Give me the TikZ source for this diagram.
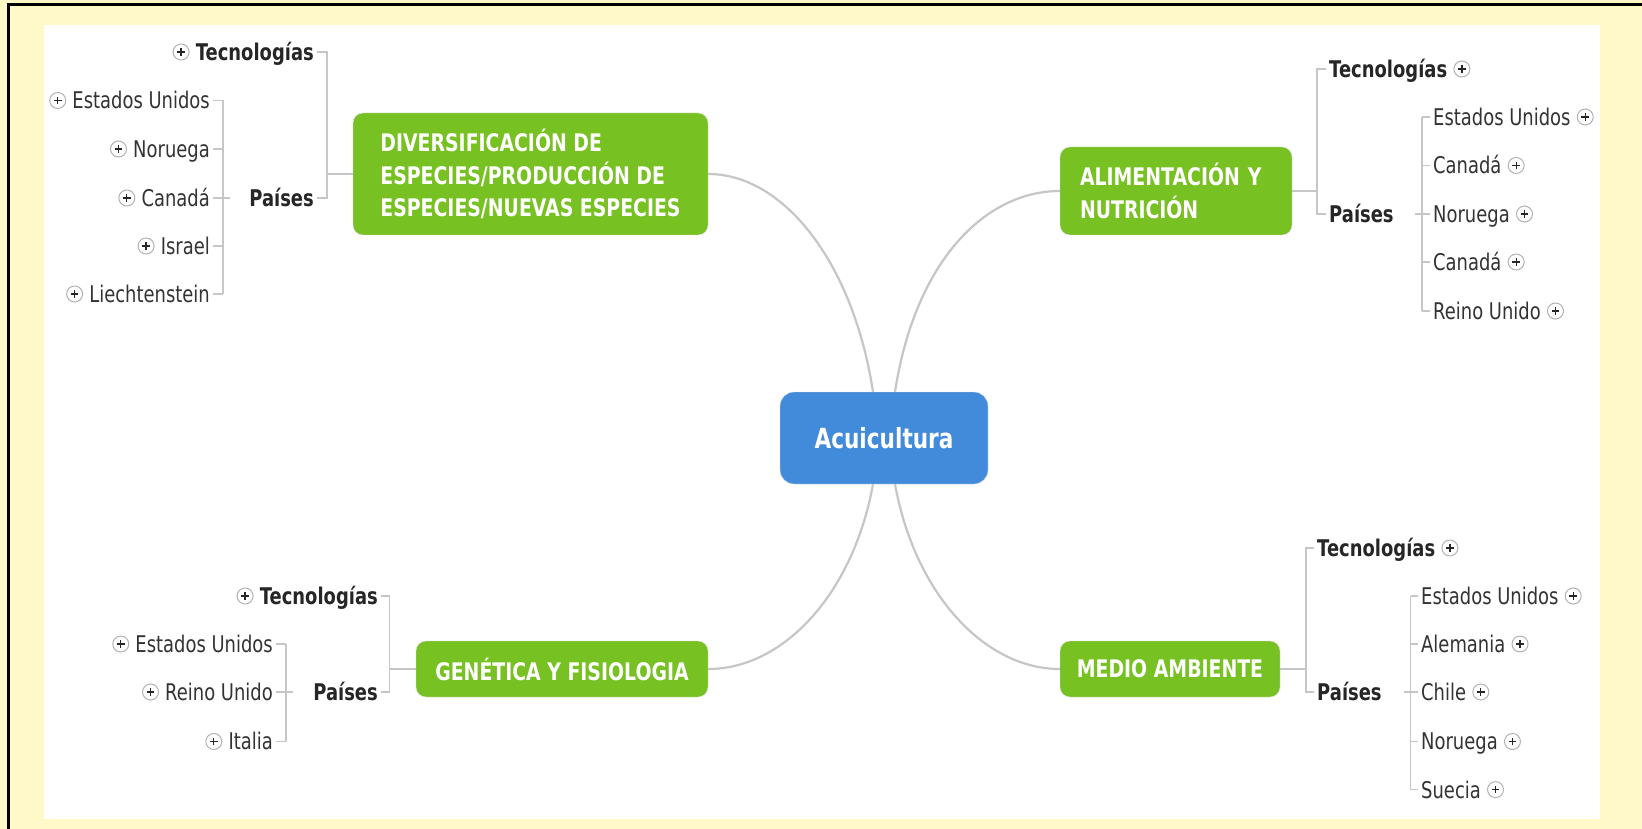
\documentclass[tikz,border=0pt]{standalone}
\usepackage{fontspec}
\setmainfont{DejaVu Sans}[FakeStretch=0.78]
\usetikzlibrary{positioning,calc}
\definecolor{bgyellow}{HTML}{FFF8C8}
\definecolor{topicgreen}{HTML}{78C123}
\definecolor{centralblue}{HTML}{428BDA}
\definecolor{linegray}{HTML}{C6C6C6}
\definecolor{leafgray}{HTML}{333333}
\tikzset{CENTRAL/.style={rectangle, rounded corners=14, fill=centralblue, draw=black!10, text=white, font=\fontsize{27.7}{32}\selectfont\bfseries, minimum width=208, minimum height=92}}
\tikzset{TOPIC/.style={rectangle, rounded corners=10, fill=topicgreen, draw=black!12, text=white, font=\fontsize{24.2}{32.5}\selectfont\bfseries, align=left}}
\tikzset{LEAF/.style={inner xsep=3, inner ysep=0, text=leafgray, font=\fontsize{23}{26}\selectfont, text height=20.8, text depth=4}}
\tikzset{BOLDLEAF/.style={LEAF, text=black!85, font=\fontsize{23}{26}\selectfont\bfseries}}
\tikzset{PLUS/.style={circle, draw=black!30, line width=1, fill=white, minimum size=16, inner sep=0, path picture={
    \draw[black!85, line width=1.3] ([xshift=-3.8pt]path picture bounding box.center) -- ([xshift=3.8pt]path picture bounding box.center)
        ([yshift=-3.8pt]path picture bounding box.center) -- ([yshift=3.8pt]path picture bounding box.center);}}}
\tikzset{BRANCH/.style={draw=linegray, line width=1.2}}
\tikzset{CURVE/.style={draw=linegray, line width=2.2}}

\begin{document}
\begin{tikzpicture}[x=1pt, y=-1pt]
    \useasboundingbox (0,0) rectangle (1642,829);
    \fill[bgyellow] (0,0) rectangle (1642,829);
    \fill[white] (44,25) rectangle (1600,819);
    \draw[line width=3] (8.5,829) |- (1642,4.5);

    \node[CENTRAL] (n_central) at (884,438) {Acuicultura};
    \node[TOPIC, minimum width=355, minimum height=122] (n_div) at (530.5,174) {DIVERSIFICACIÓN DE\\ESPECIES/PRODUCCIÓN DE\\ESPECIES/NUEVAS ESPECIES};
    \node[TOPIC, minimum height=88, text width=192, inner xsep=20] (n_ali) at (1176,191) {ALIMENTACIÓN Y\\NUTRICIÓN};
    \node[TOPIC, minimum width=292, minimum height=56] (n_gen) at (562,669) {GENÉTICA Y FISIOLOGIA};
    \node[TOPIC, minimum width=220, minimum height=56] (n_med) at (1170,669) {MEDIO AMBIENTE};

    \coordinate (c_tl) at ($(n_central.north)+(-11,0)$);
    \coordinate (c_tr) at ($(n_central.north)+(11,0)$);
    \coordinate (c_bl) at ($(n_central.south)+(-11,0)$);
    \coordinate (c_br) at ($(n_central.south)+(11,0)$);
    \draw[CURVE] (n_div.east) .. controls +(75,0) and +(-20,-130) .. (c_tl);
    \draw[CURVE] (n_ali.west) .. controls +(-75,0) and +(20,-130) .. (c_tr);
    \draw[CURVE] (n_gen.east) .. controls +(75,0) and +(-20,110) .. (c_bl);
    \draw[CURVE] (n_med.west) .. controls +(-75,0) and +(20,110) .. (c_br);

    % top left
    \coordinate (tl_j) at (327,174);
    \coordinate (tl_x) at (223,198);
    \node[BOLDLEAF, anchor=east] (tl_tec) at (317,52) {Tecnologías};
    \node[PLUS, left=3pt of tl_tec] (tl_tec_p) {};
    \node[BOLDLEAF, anchor=east] (tl_pais) at (317,198) {Países};
    \draw[BRANCH] (tl_tec.east) -| (tl_j) |- (tl_pais.east);
    \draw[BRANCH] (tl_j) -- (n_div.west);
    \foreach \n/\t/\y in {us/Estados Unidos/100.5, no/Noruega/149, ca/Canadá/198, il/Israel/246, li/Liechtenstein/294} {
        \node[LEAF, anchor=east] (tl_\n) at (213,\y) {\t};
        \node[PLUS, left=3pt of tl_\n] (tl_\n_p) {};
        \draw[BRANCH] (tl_\n.east) -- (tl_\n.east -| tl_x);
    }
    \draw[BRANCH] (tl_us.east -| tl_x) -- (tl_li.east -| tl_x);
    \draw[BRANCH] (tl_x) -- ++(7,0);

    % top right
    \coordinate (tr_j) at (1317,191);
    \coordinate (tr_x) at (1422,214);
    \node[BOLDLEAF, anchor=west] (tr_tec) at (1326,69) {Tecnologías};
    \node[PLUS, right=3pt of tr_tec] (tr_tec_p) {};
    \node[BOLDLEAF, anchor=west] (tr_pais) at (1326,214) {Países};
    \draw[BRANCH] (tr_tec.west) -| (tr_j) |- (tr_pais.west);
    \draw[BRANCH] (tr_j) -- (n_ali.east);
    \foreach \n/\t/\y in {us/Estados Unidos/117, ca/Canadá/165.5, no/Noruega/214, cb/Canadá/262, uk/Reino Unido/311} {
        \node[LEAF, anchor=west] (tr_\n) at (1430,\y) {\t};
        \node[PLUS, right=3pt of tr_\n] (tr_\n_p) {};
        \draw[BRANCH] (tr_\n.west) -- (tr_\n.west -| tr_x);
    }
    \draw[BRANCH] (tr_us.west -| tr_x) -- (tr_uk.west -| tr_x);
    \draw[BRANCH] (tr_x) -- ++(-7,0);

    % bottom left
    \coordinate (bl_j) at (389.6,669);
    \coordinate (bl_x) at (286,692);
    \node[BOLDLEAF, anchor=east] (bl_tec) at (381,596) {Tecnologías};
    \node[PLUS, left=3pt of bl_tec] (bl_tec_p) {};
    \node[BOLDLEAF, anchor=east] (bl_pais) at (381,692) {Países};
    \draw[BRANCH] (bl_tec.east) -| (bl_j) |- (bl_pais.east);
    \draw[BRANCH] (bl_j) -- (n_gen.west);
    \foreach \n/\t/\y in {us/Estados Unidos/644, uk/Reino Unido/692, it/Italia/741.5} {
        \node[LEAF, anchor=east] (bl_\n) at (276,\y) {\t};
        \node[PLUS, left=3pt of bl_\n] (bl_\n_p) {};
        \draw[BRANCH] (bl_\n.east) -- (bl_\n.east -| bl_x);
    }
    \draw[BRANCH] (bl_us.east -| bl_x) -- (bl_it.east -| bl_x);
    \draw[BRANCH] (bl_x) -- ++(7,0);

    % bottom right
    \coordinate (br_j) at (1306,669);
    \coordinate (br_x) at (1410.6,692);
    \node[BOLDLEAF, anchor=west] (br_tec) at (1314,548) {Tecnologías};
    \node[PLUS, right=3pt of br_tec] (br_tec_p) {};
    \node[BOLDLEAF, anchor=west] (br_pais) at (1314,692) {Países};
    \draw[BRANCH] (br_tec.west) -| (br_j) |- (br_pais.west);
    \draw[BRANCH] (br_j) -- (n_med.east);
    \foreach \n/\t/\y in {us/Estados Unidos/596, de/Alemania/644, cl/Chile/692, no/Noruega/741.5, se/Suecia/789.6} {
        \node[LEAF, anchor=west] (br_\n) at (1418,\y) {\t};
        \node[PLUS, right=3pt of br_\n] (br_\n_p) {};
        \draw[BRANCH] (br_\n.west) -- (br_\n.west -| br_x);
    }
    \draw[BRANCH] (br_us.west -| br_x) -- (br_se.west -| br_x);
    \draw[BRANCH] (br_x) -- ++(-7,0);
\end{tikzpicture}
\end{document}
